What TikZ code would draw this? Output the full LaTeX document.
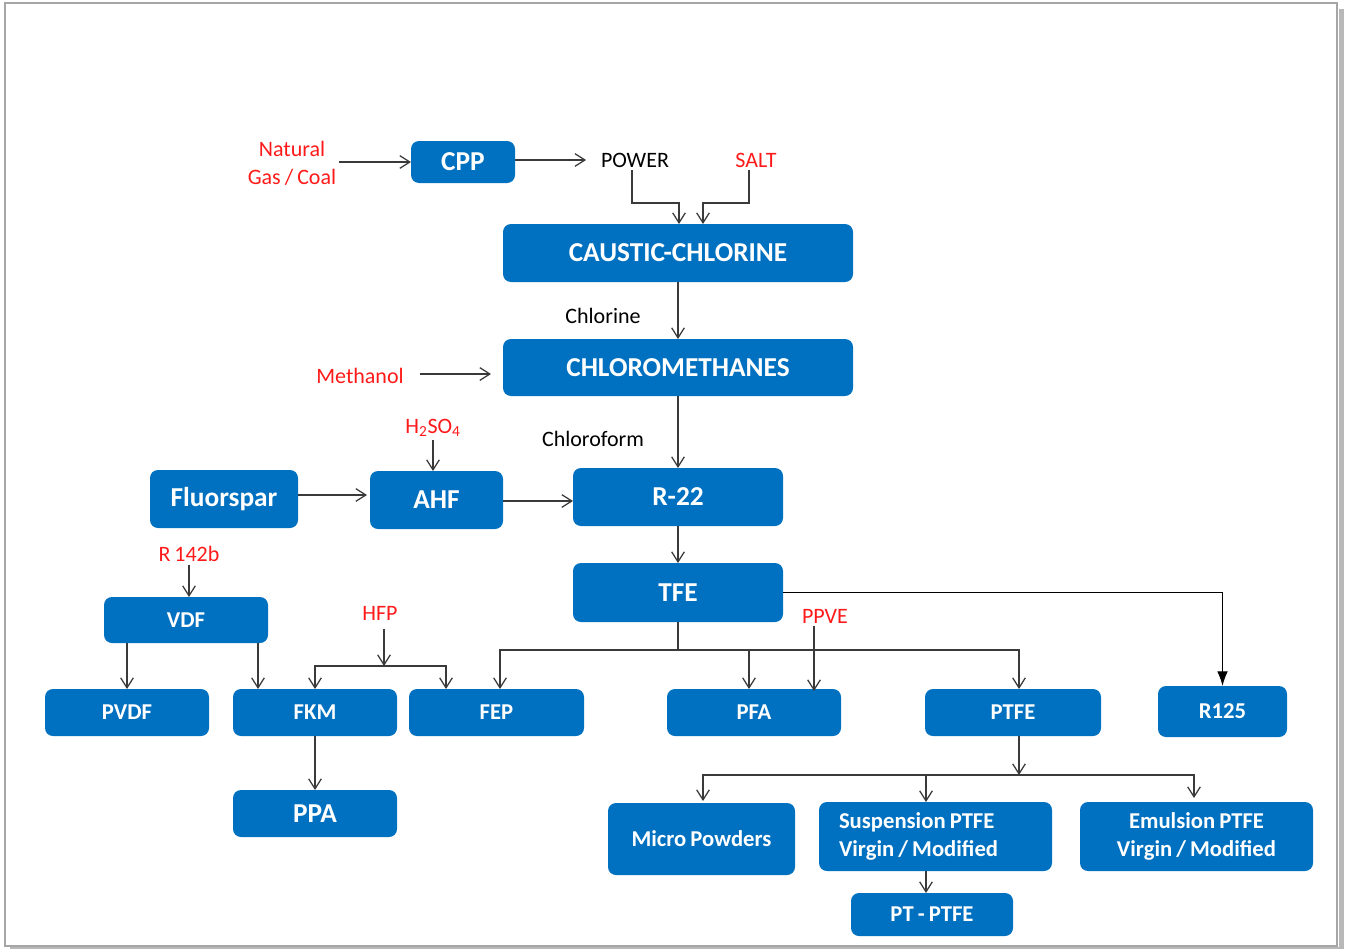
\documentclass[tikz,border=0pt]{standalone}
\usepackage{fontspec}
\setmainfont{Carlito}[WordSpace=0.8]
\usetikzlibrary{arrows.meta,calc}
\definecolor{boxblue}{HTML}{0070C0}
\definecolor{labred}{HTML}{FF1A1A}
\definecolor{linegray}{HTML}{3A3A3A}
\tikzset{
  box/.style={fill=boxblue, rounded corners=6pt, text=white, inner sep=0pt, outer sep=0pt, align=center},
  bigbox/.style={box, font=\fontsize{20.5}{24}\selectfont\bfseries},
  smallbox/.style={box, font=\fontsize{17}{21}\selectfont\bfseries},
  lab/.style={font=\fontsize{16.5}{21}\selectfont, inner sep=2pt, align=center},
  redlab/.style={lab, text=labred},
  arr/.style={draw=linegray, line width=0.95pt, -{Straight Barb[length=7.5pt,width=9.5pt]}},
  plain/.style={draw=linegray, line width=0.95pt},
}
\begin{document}
\begin{tikzpicture}[x=0.75pt,y=-0.75pt]
\useasboundingbox (0,0) rectangle (1345,949);
% frame with shadow
\fill[black!28] (1339,9) rectangle (1344,949);
\fill[black!28] (10,947) rectangle (1344,949);
\draw[black!35, line width=1.2pt] (5,3) rectangle (1337,946);

% boxes
\node[bigbox, minimum width=78pt, minimum height=31.5pt] (cpp) at (463,162) {CPP};
\node[bigbox, minimum width=262.5pt, minimum height=43.5pt] (cc) at (678,253) {CAUSTIC-CHLORINE};
\node[bigbox, minimum width=262.5pt, minimum height=42.75pt] (cm) at (678,367.5) {CHLOROMETHANES};
\node[bigbox, minimum width=111pt, minimum height=43.5pt] (fl) at (224,499) {Fluorspar};
\node[bigbox, minimum width=99.75pt, minimum height=43.5pt] (ahf) at (436.5,500) {AHF};
\node[bigbox, minimum width=157.5pt, minimum height=43.5pt] (r22) at (678,497) {R-22};
\node[bigbox, minimum width=157.5pt, minimum height=44.25pt] (tfe) at (678,592.5) {TFE};
\node[smallbox, minimum width=123pt, minimum height=34.5pt] (vdf) at (186,620) {VDF};
\node[smallbox, minimum width=123pt, minimum height=35.25pt] (pvdf) at (127,712.5) {PVDF};
\node[smallbox, minimum width=123pt, minimum height=35.25pt] (fkm) at (315,712.5) {FKM};
\node[smallbox, minimum width=131.25pt, minimum height=35.25pt] (fep) at (496.5,712.5) {FEP};
\node[bigbox, minimum width=123pt, minimum height=35.25pt] (ppa) at (315,813.5) {PPA};
\node[smallbox, minimum width=130.5pt, minimum height=35.25pt] (pfa) at (754,712.5) {PFA};
\node[smallbox, minimum width=132pt, minimum height=35.25pt] (ptfe) at (1013,712.5) {PTFE};
\node[smallbox, minimum width=96.75pt, minimum height=38.25pt] (r125) at (1222.5,711.5) {R125};
\node[smallbox, minimum width=140.25pt, minimum height=54pt] (micro) at (701.5,839) {Micro Powders};
\node[smallbox, minimum width=174.75pt, minimum height=51.75pt, text width=144.75pt, inner xsep=15pt, align=flush left] (susp) at (935.5,836.5) {Suspension PTFE\\Virgin / Modified};
\node[smallbox, minimum width=174.75pt, minimum height=51.75pt] (emul) at (1196.5,836.5) {Emulsion PTFE\\Virgin / Modified};
\node[smallbox, minimum width=121.5pt, minimum height=32.25pt] (pt) at (932,914.5) {PT - PTFE};

% labels
\node[redlab] (ng) at (292,163) {Natural\\Gas / Coal};
\node[lab] (power) at (635,160) {POWER};
\node[redlab] (salt) at (756,160) {SALT};
\node[lab] (chlorine) at (603,316) {Chlorine};
\node[redlab] (methanol) at (360,376) {Methanol};
\node[redlab] (h2so4) at (433,428) {H\textsubscript{2}SO\textsubscript{4}};
\node[lab] (chloroform) at (593,439) {Chloroform};
\node[redlab] (r142b) at (189,554) {R 142b};
\node[redlab] (hfp) at (380,613) {HFP};
\node[redlab] (ppve) at (825,616) {PPVE};

% helper coordinates
\coordinate (pwx) at (632,0);
\coordinate (slx) at (749,0);
\coordinate (mty) at (0,374);
\coordinate (vfx) at (258,0);
\coordinate (hj) at (384,666);
\coordinate (tj) at (678,650);
\coordinate (pj) at (1019,775);
\coordinate (sx) at (926,0);
\coordinate (ppx) at (814,0);

% connectors
\draw[arr] (ng.east |- cpp) -- (cpp.west);
\draw[arr] (cpp.east |- power) -- ([xshift=-9pt]power.west);
\draw[arr] (pwx |- power.south) |- ($(cc.north)+(1,-21)$) -- ($(cc.north)+(1,0)$);
\draw[arr] (slx |- salt.south) |- ($(cc.north)+(25,-21)$) -- ($(cc.north)+(25,0)$);
\draw[arr] (cc.south) -- (cm.north);
\draw[arr] ([xshift=10pt]methanol.east |- mty) -- ($(cm.west |- mty)+(-12,0)$);
\draw[arr] (cm.south) -- (r22.north);
\draw[arr] (h2so4.south) -- (h2so4.south |- ahf.north);
\draw[arr] ($(fl.east)+(0,-4)$) -- ($(ahf.west)+(-3,-5)$);
\draw[arr] ($(ahf.east)+(0,1)$) -- ($(r22.west |- ahf.east)+(0,1)$);
\draw[arr] (r22.south) -- (tfe.north);
\draw[arr] (r142b.south) -- (r142b.south |- vdf.north);
\draw[arr] (vdf.south -| pvdf.north) -- (pvdf.north);
\draw[arr] (vfx |- vdf.south) -- (vfx |- fkm.north);
\draw[arr] ($(hfp.south)+(4,6)$) -- (hj);
\draw[arr] (hj) -| (fkm.north);
\draw[arr] (hj) -| ($(fep.north west)+(37,0)$);
\draw[arr] (fkm.south) -- (ppa.north);
\draw[plain] (tfe.south) -- (tj);
\draw[arr] (tj) -| ($(fep.north)+(3.5,0)$);
\draw[arr] (tj) -| ($(pfa.north)+(-5,0)$);
\draw[arr] (tj) -| ($(ptfe.north)+(6,0)$);
\draw[arr] (ppx |- ppve.south) -- ($(ppx |- pfa.north)+(0,2)$);
\draw[black, line width=0.95pt, -{Latex[length=11pt,width=8pt]}] (tfe.east) -| (r125.north);
\draw[arr] (pj |- ptfe.south) -- (pj);
\draw[arr] (pj) -| ($(micro.north)+(1.5,-2)$);
\draw[arr] (pj) -| (sx |- susp.north);
\draw[arr] (pj) -| ($(emul.north)+(-2.5,-4)$);
\draw[arr] (sx |- susp.south) -- (sx |- pt.north);
\end{tikzpicture}
\end{document}
